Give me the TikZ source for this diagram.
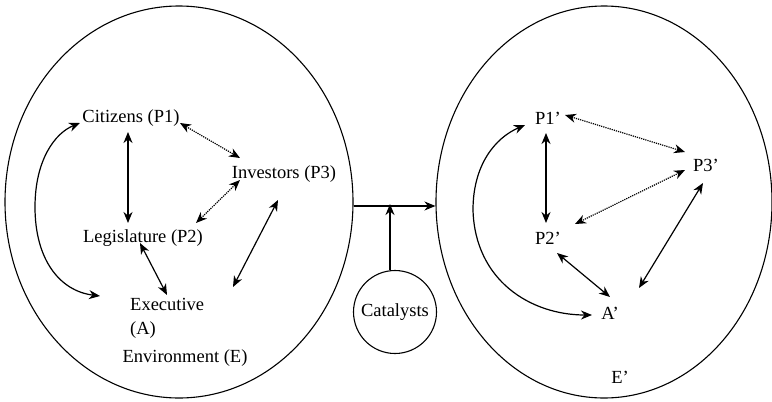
\documentclass[tikz,border=0pt]{standalone}
\usepackage{fontspec}
\setmainfont{Liberation Serif}
\usetikzlibrary{arrows.meta,shapes.geometric}
\begin{document}
\begin{tikzpicture}[x=1pt,y=-1pt,
  lbl/.style={inner sep=2pt,font=\fontsize{18.5}{24}\selectfont},
  env/.style={draw,ellipse,line width=1.1pt,inner sep=0pt},
  arr/.style={line width=1.2pt,{Stealth[length=11pt,width=9pt,inset=3.5pt]}-{Stealth[length=11pt,width=9pt,inset=3.5pt]}},
  dotarr/.style={arr,densely dotted},
  onearr/.style={line width=1.2pt,-{Stealth[length=11pt,width=9pt,inset=3.5pt]}}]
\useasboundingbox (0,0) rectangle (772,402);
% environments
\node[env,minimum width=348pt,minimum height=392pt] (E1) at (179,202) {};
\node[env,minimum width=336pt,minimum height=392pt] (E2) at (604,202) {};
\node[draw,circle,line width=1.1pt,minimum size=83pt,inner sep=0pt,lbl] (cat) at (395,312) {Catalysts};
% left labels
\node[lbl] (cit) at (131,118) {Citizens (P1)};
\node[lbl] (inv) at (284,174) {Investors (P3)};
\node[lbl] (leg) at (143,238) {Legislature (P2)};
\node[lbl,align=left,anchor=west] (exe) at (128,318) {Executive\\(A)};
\node[lbl] (env) at (185,358) {Environment (E)};
\coordinate (x1) at ([shift={(105,-31)}]exe.west);
% right labels
\node[lbl] (p1) at (548,118) {P1'};
\node[lbl] (p3) at (706,165) {P3'};
\node[lbl] (p2) at (548,238) {P2'};
\node[lbl] (ap) at (610,313) {A'};
\node[lbl] (ep) at (620,377) {E'};
\coordinate (x2) at ([shift={(29,-25)}]ap.center);
% left connectors
\draw[arr] ([shift={(-3,14)}]cit.center) -- ([shift={(-15,-15)}]leg.center);
\draw[dotarr] ([shift={(49,5)}]cit.center) -- ([shift={(-44,-16)}]inv.center);
\draw[dotarr] ([shift={(-44,6)}]inv.center) -- ([shift={(53,-15)}]leg.center);
\draw[arr] ([shift={(-3,5)}]leg.center) -- ([shift={(39,-23)}]exe.west);
\draw[arr] ([shift={(-6,26)}]inv.center) -- (x1);
\draw[arr] ([shift={(-28,-22)}]exe.west) .. controls (60,291) and (35,260) .. (35,207)
  .. controls (35,160) and (55,133) .. ([shift={(-51,5)}]cit.center);
% right connectors
\draw[arr] ([shift={(-2,15)}]p1.center) -- ([shift={(-2,-15)}]p2.center);
\draw[dotarr] ([shift={(17,-3)}]p1.center) -- ([shift={(-21,-13)}]p3.center);
\draw[dotarr] ([shift={(-21,5)}]p3.center) -- ([shift={(27,-14)}]p2.center);
\draw[arr] ([shift={(9,15)}]p2.center) -- ([shift={(0,-16)}]ap.center);
\draw[arr] ([shift={(-3,18)}]p3.center) -- (x2);
\draw[arr] ([shift={(-18,2)}]ap.center) .. controls (530,315) and (475,280) .. (473,210)
  .. controls (473,165) and (495,138) .. ([shift={(-23,7)}]p1.center);
% transition
\draw[onearr] ([yshift=-4pt]E1.east) -- ([yshift=-4pt]E2.west);
\draw[onearr] ([xshift=-5pt]cat.north) -- ([xshift=-5pt,yshift=-2pt]cat.north |- E1.east);
\end{tikzpicture}
\end{document}
